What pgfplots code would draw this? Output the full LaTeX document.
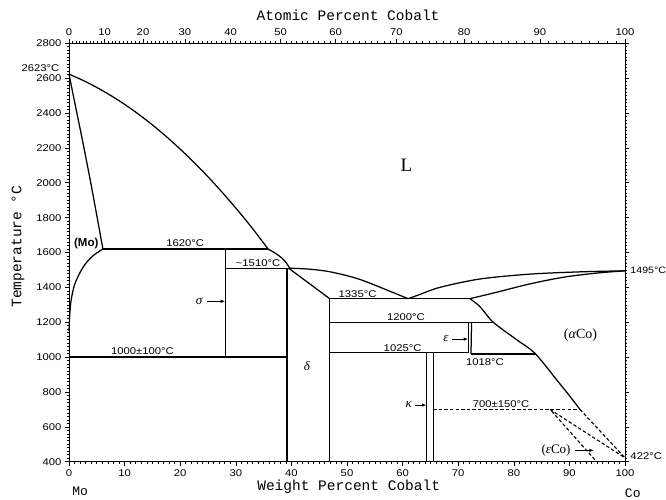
\documentclass[border=0pt]{standalone}
\usepackage{fontspec}
\setmainfont{Liberation Sans}
\newfontfamily\wide[FakeStretch=1.15]{Liberation Sans}
\newfontfamily\monof{Liberation Mono}
\newfontfamily\seriff{Liberation Serif}
\usepackage{pgfplots}
\pgfplotsset{compat=1.18}
\usetikzlibrary{arrows.meta}

% minor ticks of the atomic-percent scale (every 1 at.%), placed on the wt.% axis
\def\atlist{0}
\foreach \a in {1,...,100}{%
  \pgfmathparse{100*\a/(\a+1.62811*(100-\a))}%
  \xdef\atlist{\atlist,\pgfmathresult}%
}

\tikzset{
  lab/.style={font=\wide\fontsize{9.8}{10}\selectfont},
  gk/.style={font=\seriff\itshape\fontsize{13}{14}\selectfont},
}

\begin{document}
\begin{tikzpicture}
\pgfplotsset{
  common/.style={
    scale only axis, width=556pt, height=418.4pt,
    xmin=0, xmax=100, ymin=400, ymax=2800,
    tick align=outside,
    major tick length=4pt, minor tick length=2pt,
    axis line style={line width=0.8pt},
    every tick/.style={black, line width=0.6pt},
    /pgf/number format/assume math mode=true,
    /pgf/number format/1000 sep={},
    tick label style={font=\wide\fontsize{9.8}{10}\selectfont},
  },
  ph/.style={black, line width=1.25pt, no markers},
  cv/.style={black, line width=1.25pt, no markers, smooth, tension=0.5},
  dsh/.style={black, line width=1.1pt, no markers, dash pattern=on 3.4pt off 2.2pt},
  arr/.style={black, line width=0.9pt, no markers, -{Latex[length=4.5pt,width=3.4pt]}},
}
\edef\temp{\noexpand\pgfplotsset{topticks/.style={minor xtick={\atlist}}}}\temp

% top axis: atomic percent cobalt
\begin{axis}[common, topticks,
  axis x line*=top, axis y line=none,
  xtick={0,6.389,13.31,20.84,29.05,38.05,47.95,58.90,71.07,84.68,100},
  xticklabels={0,10,20,30,40,50,60,70,80,90,100},
  xlabel={Atomic Percent Cobalt},
  xlabel style={font=\monof\fontsize{14.5}{15}\selectfont, at={(axis description cs:0.502,1.068)}, anchor=center},
]
\end{axis}

% main axis: weight percent cobalt
\begin{axis}[common, name=main, clip=false,
  xtick={0,10,...,100}, minor x tick num=9,
  ytick={400,600,...,2800}, minor y tick num=9,
  xtick pos=left, ytick pos=both,
  xticklabel pos=left, yticklabel pos=left,
  xlabel={Weight Percent Cobalt},
  ylabel={Temperature °C},
  xlabel style={font=\monof\fontsize{14.5}{15}\selectfont, at={(axis description cs:0.503,-0.0605)}, anchor=center},
  ylabel style={font=\monof\fontsize{14.5}{15}\selectfont, at={(axis description cs:-0.0917,0.514)}, anchor=center},
]
% liquidus, Mo side
\addplot[cv] coordinates {(0,2623)(3,2580)(6,2529)(9,2471)(12,2405)(15,2332)(18,2251)(21,2163)(24,2068)(27,1965)(30,1855)(33,1738)(35.8,1620)};
\addplot[cv] coordinates {(35.8,1620)(37.4,1590)(38.8,1552)(39.7,1510)};
\addplot[cv] coordinates {(39.7,1510)(43,1505)(46.5,1492)(50,1467)(53,1438)(57.7,1378)(61,1335)};
% liquidus and solidus, Co side
\addplot[cv] coordinates {(61,1335)(63,1358)(66.7,1400)(73.9,1448)(82.9,1476)(91.9,1489)(100,1495)};
\addplot[cv] coordinates {(72.1,1335)(76.9,1372)(82.9,1420)(88.9,1458)(94.9,1482)(100,1495)};
% solidus and solvus of (Mo)
\addplot[cv] coordinates {(0,2623)(1.0,2465)(2.0,2310)(3.0,2150)(4.0,1985)(5.0,1812)(6.1,1620)};
\addplot[cv] coordinates {(6.1,1620)(4.5,1586)(3.0,1537)(2.0,1486)(1.0,1415)(0.4,1330)(0.15,1250)(0,1150)};
% invariants and phase boundaries
\addplot[ph] coordinates {(6.1,1620)(35.8,1620)};
\addplot[ph] coordinates {(28.1,1620)(28.1,1000)};
\addplot[ph] coordinates {(28.1,1510)(39.7,1510)};
\addplot[ph] coordinates {(39.2,1510)(39.2,400)};
\addplot[ph] coordinates {(0,1000)(39.2,1000)};
\addplot[ph] coordinates {(39.5,1510)(46.9,1335)};
\addplot[ph] coordinates {(46.9,1335)(46.9,400)};
\addplot[ph] coordinates {(46.9,1335)(72.1,1335)};
\addplot[ph] coordinates {(46.9,1200)(76.3,1200)};
\addplot[cv] coordinates {(72.1,1335)(73.9,1290)(76.3,1200)(80.5,1100)(83.8,1022)(87.7,870)(90.1,775)(91.9,700)};
\addplot[ph] coordinates {(71.8,1200)(71.8,1025)};
\addplot[ph] coordinates {(72.4,1200)(72.3,1018)};
\addplot[ph] coordinates {(46.9,1025)(71.8,1025)};
\addplot[ph] coordinates {(72.3,1018)(83.8,1018)};
\addplot[ph] coordinates {(64.3,1025)(64.3,400)};
\addplot[ph] coordinates {(65.5,1025)(65.5,400)};
% dashed boundaries
\addplot[dsh] coordinates {(65.5,700)(91.9,700)};
\addplot[dsh] coordinates {(91.9,700)(100,422)};
\addplot[dsh] coordinates {(86.5,700)(100,422)};
\addplot[dsh] coordinates {(86.8,690)(94.9,400)};
% arrows
\addplot[arr] coordinates {(24.9,1320)(28.1,1320)};
\addplot[arr] coordinates {(68.9,1103)(71.8,1103)};
\addplot[arr] coordinates {(62.2,725)(64.3,725)};
\addplot[arr] coordinates {(91.0,465)(94.4,465)};

% labels
\node[font=\seriff\fontsize{19}{20}\selectfont] at (axis cs:60.7,2103) {L};
\node[font=\seriff\fontsize{14}{15}\selectfont] at (axis cs:92.0,1127) {(\textit{α}Co)};
\node[font=\bfseries\fontsize{11.5}{12}\selectfont] at (axis cs:3.1,1654) {(Mo)};
\node[font=\seriff\fontsize{13}{14}\selectfont] at (axis cs:87.6,467) {(\textit{ε}Co)};
\node[lab] at (axis cs:20.9,1654) {1620°C};
\node[lab] at (axis cs:34.0,1540) {\textasciitilde1510°C};
\node[lab] at (axis cs:13.2,1035) {1000±100°C};
\node[lab] at (axis cs:51.9,1364) {1335°C};
\node[lab] at (axis cs:60.6,1228) {1200°C};
\node[lab] at (axis cs:60.0,1050) {1025°C};
\node[lab] at (axis cs:74.8,972) {1018°C};
\node[lab] at (axis cs:77.7,733) {700±150°C};
\node[gk] at (axis cs:23.4,1322) {σ};
\node[gk] at (axis cs:42.8,949) {δ};
\node[gk] at (axis cs:67.8,1105) {ε};
\node[gk] at (axis cs:61.1,727) {κ};
\node[font=\wide\fontsize{9.2}{10}\selectfont, anchor=west, inner sep=0pt] at (axis cs:100.95,1495) {1495°C};
\node[lab, anchor=west, inner sep=0pt] at (axis cs:100.95,430) {422°C};
\node[lab, anchor=east] at (axis cs:-1.1,2655) {2623°C};
\node[font=\monof\fontsize{13}{14}\selectfont] at (axis cs:2.0,228) {Mo};
\node[font=\monof\fontsize{13}{14}\selectfont] at (axis cs:101.4,222) {Co};
\end{axis}
\pgfresetboundingbox
\path[use as bounding box] ([xshift=-69pt,yshift=-37.3pt]main.south west) rectangle ([xshift=41pt,yshift=43.3pt]main.north east);
\end{tikzpicture}
\end{document}
